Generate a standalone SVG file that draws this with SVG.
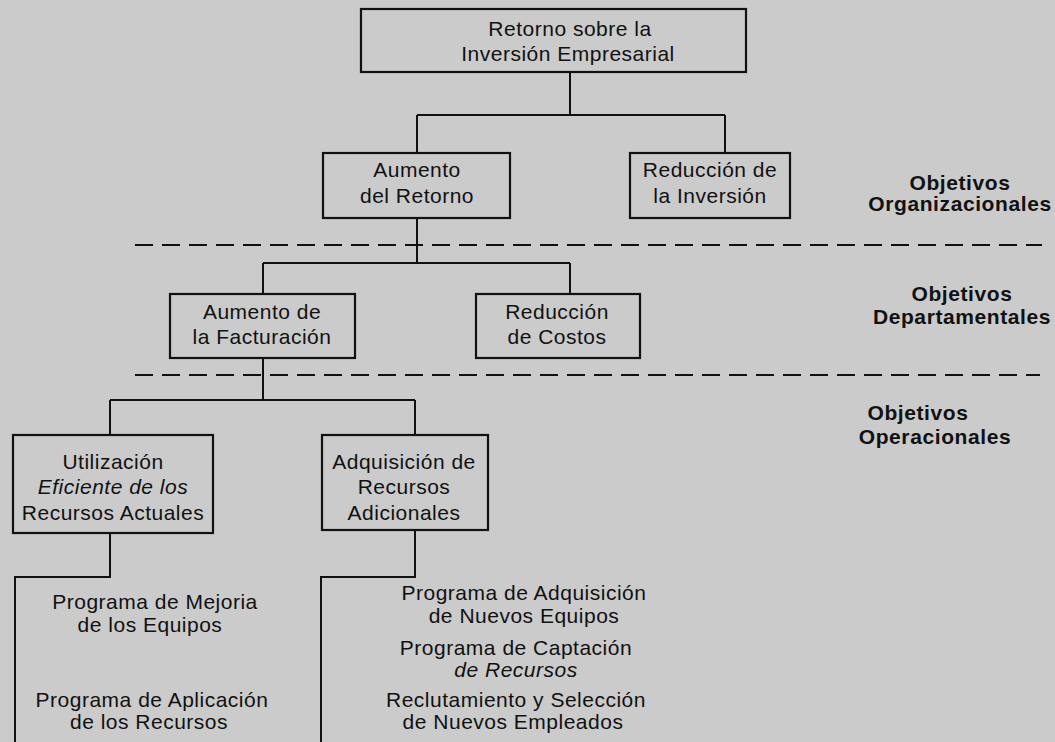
<svg xmlns="http://www.w3.org/2000/svg" width="1055" height="742" viewBox="0 0 1055 742">
<style>
.box{fill:none;stroke:#111;stroke-width:2.2}
.ln{fill:none;stroke:#111;stroke-width:2}
.dash{fill:none;stroke:#111;stroke-width:2.2;stroke-dasharray:18 9}
.t{font-family:"Liberation Sans",Arial,sans-serif;font-size:21px;fill:#111;text-anchor:middle;letter-spacing:0.5px}
.b{font-family:"Liberation Sans",Arial,sans-serif;font-size:21px;font-weight:bold;fill:#111;text-anchor:middle;letter-spacing:0.6px}
.i{font-style:italic}
</style>
<rect width="1055" height="742" fill="#cbcbcb"/>
<g id="connectors">
<path class="ln" d="M570 72V115M417 115H725M417 115V153M725 115V153"/>
<path class="ln" d="M417 218V263M263 263H570M263 263V294M570 263V294"/>
<path class="ln" d="M263 358V400M110 400H415M110 400V435M415 400V435"/>
<path class="ln" d="M110 533V577H15V742M415 530V577H321V742"/>
</g>
<g id="dividers">
<line class="dash" x1="135" y1="245" x2="1042" y2="245"/>
<line class="dash" x1="135" y1="375" x2="1040" y2="375"/>
</g>
<g id="n-retorno-inversion">
<rect class="box" x="361" y="9" width="385" height="63"/>
<text class="t" x="570" y="36">Retorno sobre la</text>
<text class="t" x="568" y="61">Inversión Empresarial</text>
</g>
<g id="n-aumento-retorno">
<rect class="box" x="323" y="153" width="187" height="65"/>
<text class="t" x="417" y="177">Aumento</text>
<text class="t" x="417" y="203">del Retorno</text>
</g>
<g id="n-reduccion-inversion">
<rect class="box" x="630" y="153" width="160" height="65"/>
<text class="t" x="710" y="177">Reducción de</text>
<text class="t" x="710" y="203">la Inversión</text>
</g>
<g id="n-aumento-facturacion">
<rect class="box" x="170" y="294" width="185" height="64"/>
<text class="t" x="262" y="319">Aumento de</text>
<text class="t" x="262" y="344">la Facturación</text>
</g>
<g id="n-reduccion-costos">
<rect class="box" x="476" y="294" width="164" height="64"/>
<text class="t" x="557" y="319">Reducción</text>
<text class="t" x="557" y="344">de Costos</text>
</g>
<g id="n-utilizacion">
<rect class="box" x="13" y="435" width="200" height="98"/>
<text class="t" x="113" y="469">Utilización</text>
<text class="t i" x="113" y="494">Eficiente de los</text>
<text class="t" x="113" y="520">Recursos Actuales</text>
</g>
<g id="n-adquisicion">
<rect class="box" x="322" y="435" width="166" height="95"/>
<text class="t" x="404" y="469">Adquisición de</text>
<text class="t" x="404" y="494">Recursos</text>
<text class="t" x="404" y="520">Adicionales</text>
</g>
<g id="n-programas-izq">
<text class="t" x="155" y="609">Programa de Mejoria</text>
<text class="t" x="150" y="632">de los Equipos</text>
<text class="t" x="152" y="707">Programa de Aplicación</text>
<text class="t" x="149" y="729">de los Recursos</text>
</g>
<g id="n-programas-der">
<text class="t" x="524" y="600">Programa de Adquisición</text>
<text class="t" x="524" y="623">de Nuevos Equipos</text>
<text class="t" x="516" y="655">Programa de Captación</text>
<text class="t i" x="516" y="677">de Recursos</text>
<text class="t" x="516" y="707">Reclutamiento y Selección</text>
<text class="t" x="513" y="729">de Nuevos Empleados</text>
</g>
<g id="labels">
<text class="b" x="960" y="190">Objetivos</text>
<text class="b" x="960" y="211">Organizacionales</text>
<text class="b" x="962" y="301">Objetivos</text>
<text class="b" x="962" y="324">Departamentales</text>
<text class="b" x="918" y="420">Objetivos</text>
<text class="b" x="935" y="444">Operacionales</text>
</g>
</svg>
